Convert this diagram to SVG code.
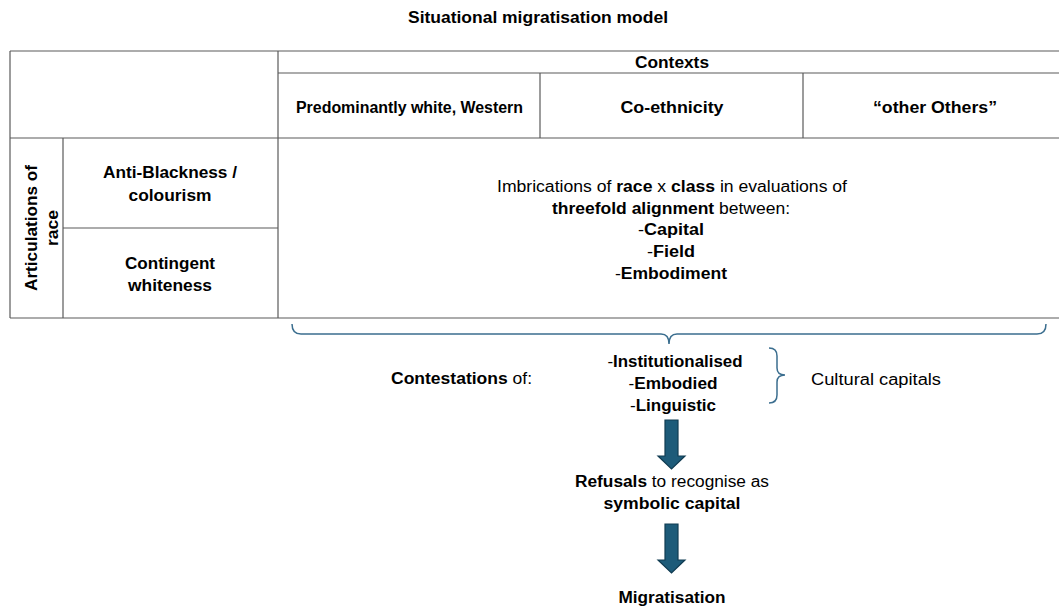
<svg xmlns="http://www.w3.org/2000/svg" width="1059" height="606" viewBox="0 0 1059 606">
<style>
text{font-family:"Liberation Sans",Arial,sans-serif;font-size:16px;fill:#000}
.b{font-weight:bold}
.c{text-anchor:middle}
.grid line{stroke:#5a5a5a;stroke-width:1.2}
.brace{fill:none;stroke:#3b6e8f;stroke-width:1.5}
.arrow{fill:#1d5b79;stroke:#113c52;stroke-width:1.2}
</style>
<rect width="1059" height="606" fill="#fff"/>
<g id="title"><text class="b c" x="538" y="23" textLength="260" lengthAdjust="spacingAndGlyphs">Situational migratisation model</text></g>
<g id="table" class="grid">
<line x1="10" y1="51" x2="1070" y2="51"/>
<line x1="278" y1="73" x2="1070" y2="73"/>
<line x1="10" y1="138" x2="1070" y2="138"/>
<line x1="63" y1="228" x2="278" y2="228"/>
<line x1="10" y1="318" x2="1070" y2="318"/>
<line x1="10" y1="51" x2="10" y2="318"/>
<line x1="63" y1="138" x2="63" y2="318"/>
<line x1="278" y1="51" x2="278" y2="318"/>
<line x1="540" y1="73" x2="540" y2="138"/>
<line x1="803" y1="73" x2="803" y2="138"/>
</g>
<g id="contexts"><text class="b c" x="672" y="68" textLength="74" lengthAdjust="spacingAndGlyphs">Contexts</text></g>
<g id="ctx-western"><text class="b c" x="409.5" y="113" textLength="227" lengthAdjust="spacingAndGlyphs">Predominantly white, Western</text></g>
<g id="ctx-coethnicity"><text class="b c" x="672" y="113" textLength="103" lengthAdjust="spacingAndGlyphs">Co-ethnicity</text></g>
<g id="ctx-others"><text class="b c" x="935" y="113" textLength="124" lengthAdjust="spacingAndGlyphs">“other Others”</text></g>
<g id="articulations">
<text class="b c" transform="translate(37,228) rotate(-90)" x="0" y="0" textLength="126" lengthAdjust="spacingAndGlyphs">Articulations of</text>
<text class="b c" transform="translate(58,228) rotate(-90)" x="0" y="0" textLength="36" lengthAdjust="spacingAndGlyphs">race</text>
</g>
<g id="anti-blackness">
<text class="b c" x="170" y="178" textLength="134" lengthAdjust="spacingAndGlyphs">Anti-Blackness /</text>
<text class="b c" x="170" y="201" textLength="83" lengthAdjust="spacingAndGlyphs">colourism</text>
</g>
<g id="contingent-whiteness">
<text class="b c" x="170" y="269" textLength="90" lengthAdjust="spacingAndGlyphs">Contingent</text>
<text class="b c" x="170" y="291" textLength="84" lengthAdjust="spacingAndGlyphs">whiteness</text>
</g>
<g id="imbrications">
<text class="c" x="672" y="192" textLength="350" lengthAdjust="spacingAndGlyphs">Imbrications of <tspan class="b">race</tspan> x <tspan class="b">class</tspan> in evaluations of</text>
<text class="c" x="671" y="214" textLength="238" lengthAdjust="spacingAndGlyphs"><tspan class="b">threefold alignment</tspan> between:</text>
<text class="c" x="671" y="235" textLength="66" lengthAdjust="spacingAndGlyphs">-<tspan class="b">Capital</tspan></text>
<text class="c" x="671" y="257" textLength="48" lengthAdjust="spacingAndGlyphs">-<tspan class="b">Field</tspan></text>
<text class="c" x="671" y="279" textLength="112" lengthAdjust="spacingAndGlyphs">-<tspan class="b">Embodiment</tspan></text>
</g>
<g id="contestations"><text x="391" y="384" textLength="141" lengthAdjust="spacingAndGlyphs"><tspan class="b">Contestations</tspan> of:</text></g>
<g id="capitals-list">
<text class="c" x="675" y="367" textLength="135" lengthAdjust="spacingAndGlyphs">-<tspan class="b">Institutionalised</tspan></text>
<text class="c" x="673" y="389" textLength="89" lengthAdjust="spacingAndGlyphs">-<tspan class="b">Embodied</tspan></text>
<text class="c" x="673" y="411" textLength="86" lengthAdjust="spacingAndGlyphs">-<tspan class="b">Linguistic</tspan></text>
</g>
<g id="cultural-capitals"><text x="811" y="385" textLength="130" lengthAdjust="spacingAndGlyphs">Cultural capitals</text></g>
<g id="refusals">
<text class="c" x="672" y="487" textLength="194" lengthAdjust="spacingAndGlyphs"><tspan class="b">Refusals</tspan> to recognise as</text>
<text class="b c" x="672" y="509" textLength="137" lengthAdjust="spacingAndGlyphs">symbolic capital</text>
</g>
<g id="migratisation"><text class="b c" x="672" y="603" textLength="107" lengthAdjust="spacingAndGlyphs">Migratisation</text></g>
<g id="connectors">
<path class="brace" d="M292,324 Q292,334 301,334 L661,334 Q669,334 669,344 Q669,334 677,334 L1037,334 Q1046,334 1046,324"/>
<path class="brace" d="M769,348 Q777,348 777,356 L777,368 Q777,375 785,375 Q777,375 777,382 L777,395 Q777,403 769,403"/>
<path class="arrow" d="M665,420 H678 V456 H685 L671.5,469 L658,456 H665 Z"/>
<path class="arrow" d="M665,524 H678 V560 H685 L671.5,573 L658,560 H665 Z"/>
</g>
</svg>
